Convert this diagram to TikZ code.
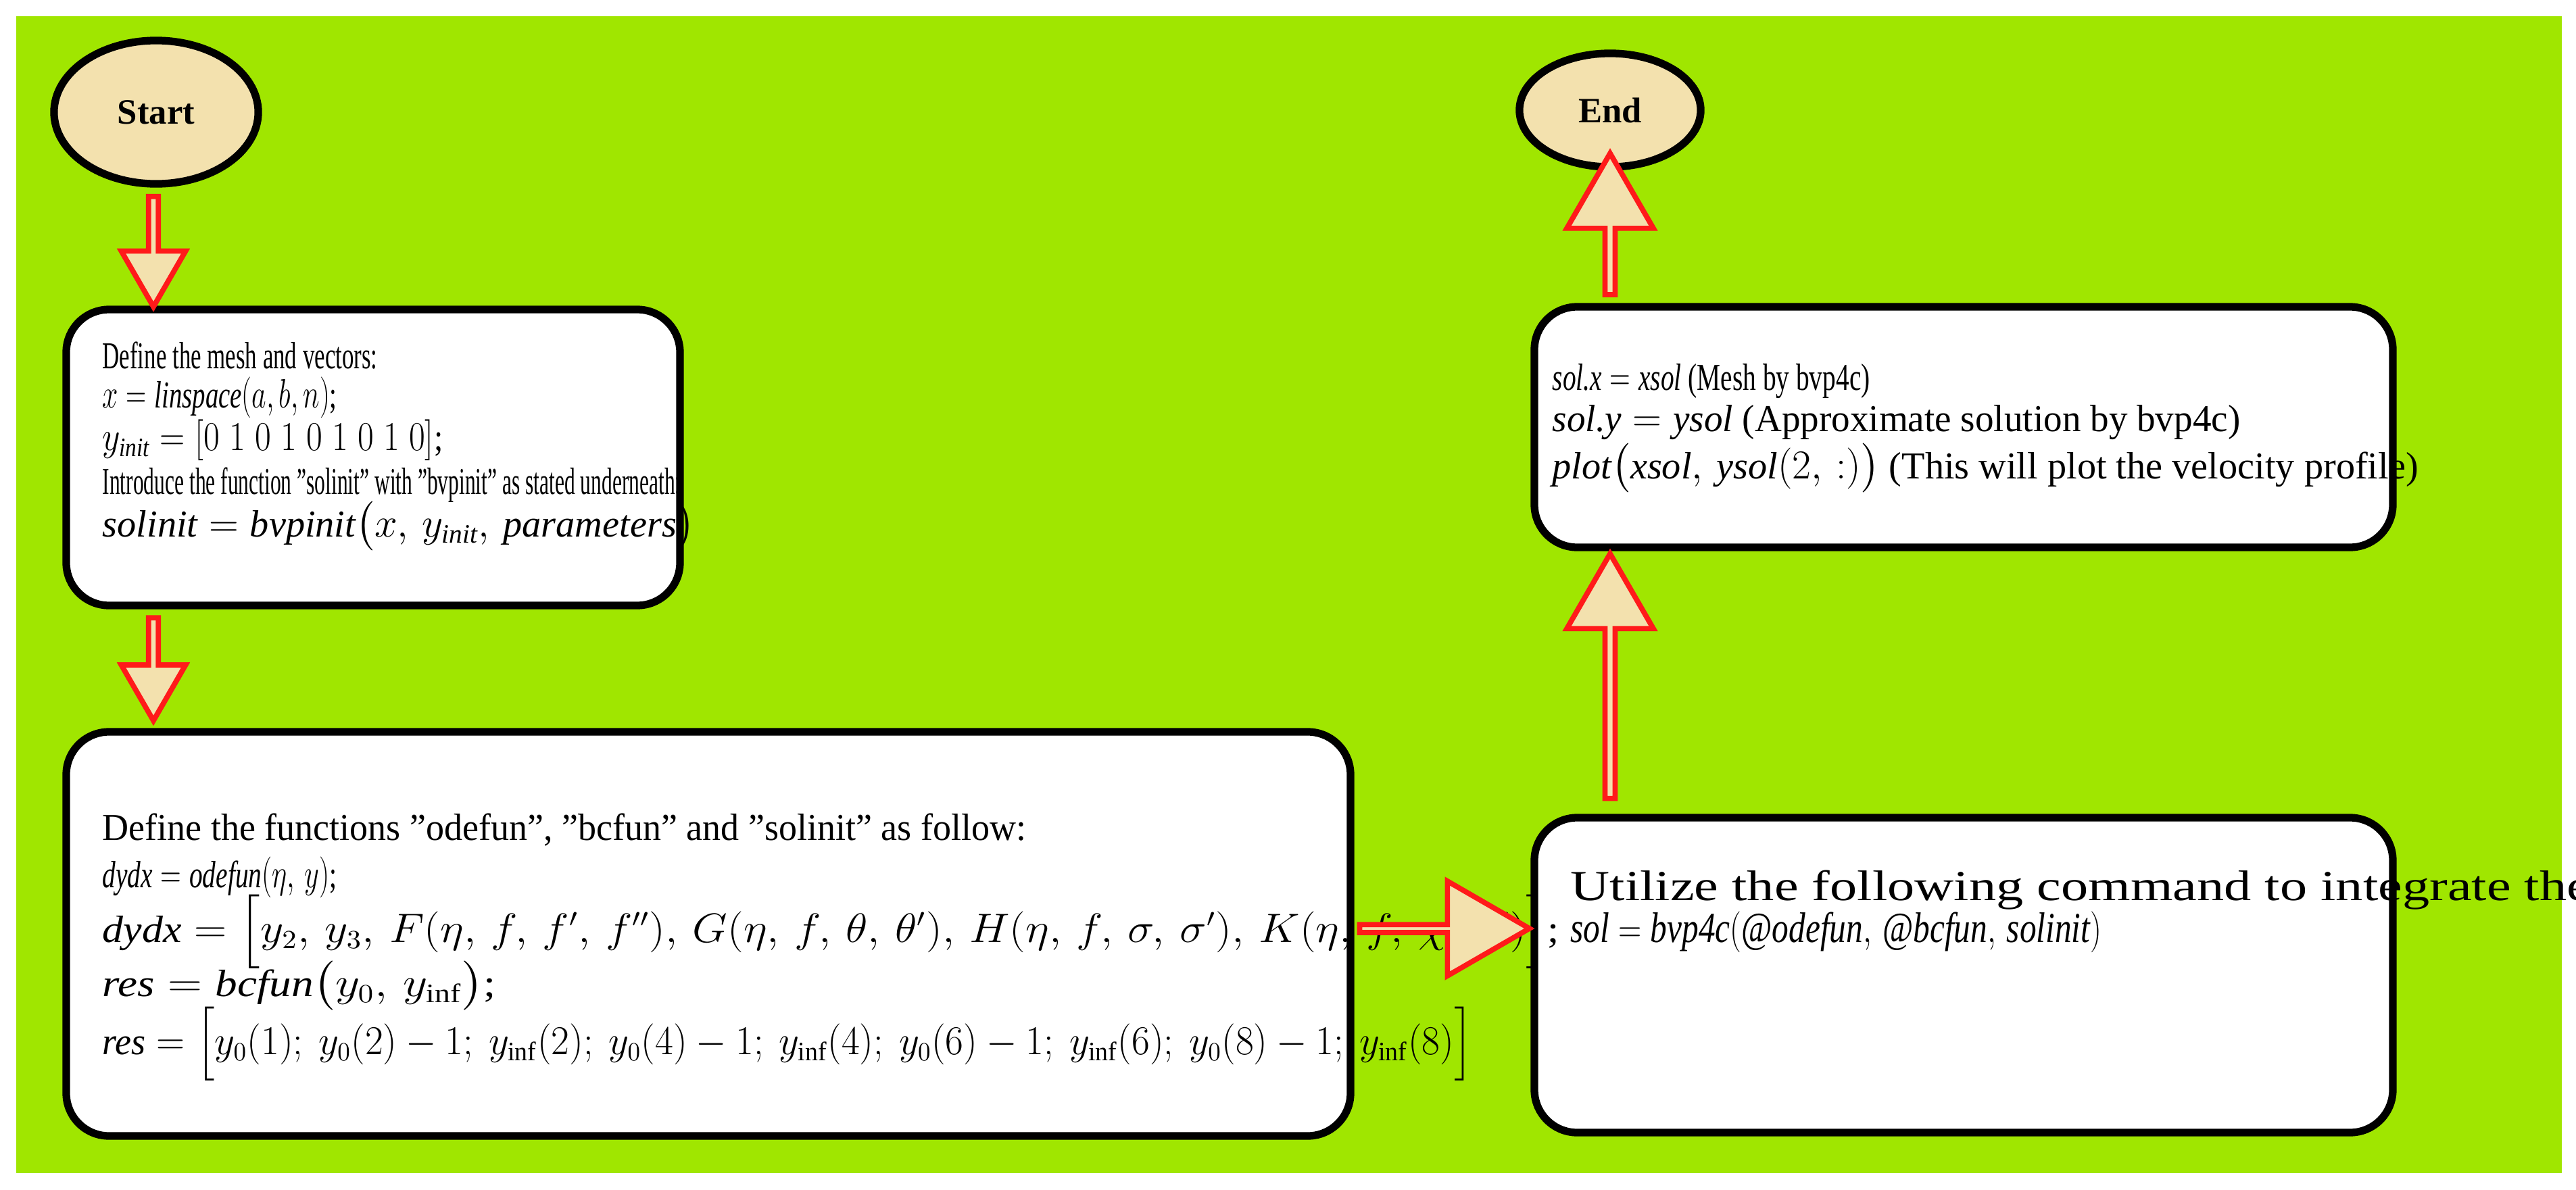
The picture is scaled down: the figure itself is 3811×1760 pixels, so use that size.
\documentclass[tikz,border=0pt]{standalone}
\usepackage{fontspec}
\setmainfont{Liberation Serif}
\usepackage{amsmath}
\usepackage{graphicx}
\usetikzlibrary{shapes.arrows,shapes.geometric}
\newcommand\vn[1]{\textit{#1}}
\newcommand\qq{\symbol{34}}
\newcommand\sqz[2]{\scalebox{#1}[1]{#2}}
\begin{document}
\begin{tikzpicture}[x=0.01cm,y=-0.01cm,
  term/.style={ellipse,draw=black,line width=3.2pt,fill=tan0,font=\fontsize{15}{18}\selectfont\bfseries,inner sep=0pt},
  box/.style={draw=black,line width=3.2pt,fill=white,rounded corners=18pt},
  txt/.style={anchor=base west,inner sep=0pt,font=\fontsize{16}{18}\selectfont},
  txtb/.style={anchor=base west,inner sep=0pt,font=\fontsize{18}{20}\selectfont},
  bigarrow/.style={single arrow,draw=red0,fill=tan0,line width=2.2pt,inner sep=0pt,single arrow tip angle=60}]
\definecolor{tan0}{HTML}{F3E1AE}
\definecolor{red0}{HTML}{FF1A1A}
\definecolor{green0}{HTML}{A0E600}
\useasboundingbox (0,0) rectangle (3811,1760);
\fill[white] (0,0) rectangle (3811,1760);
\fill[green0] (24,24) rectangle (3790,1736);
\node[term,minimum width=3.02cm,minimum height=2.12cm] (start) at (231,166) {Start};
\node[term,minimum width=2.68cm,minimum height=1.68cm] (end) at (2382,163) {End};
% boxes
\draw[box] (98,458) rectangle (1006,896);
\draw[box] (98,1083) rectangle (1998,1681);
\draw[box] (2270,454) rectangle (3540,810);
\draw[box] (2270,1210) rectangle (3540,1676);
% box 1
\node[txt] (b1a) at (151,545) {\sqz{0.62}{Define the mesh and vectors:}};
\node[txt] (b1b) at (151,603) {\sqz{0.69}{$x=\vn{linspace}(a,b,n)$;}};
\node[txt] (b1c) at (151,666) {\sqz{0.85}{$y_{\vn{init}}=[0\;1\;0\;1\;0\;1\;0\;1\;0]$;}};
\node[txt] (b1d) at (151,731) {\sqz{0.56}{Introduce the function \qq solinit\qq{} with \qq bvpinit\qq{} as stated underneath:}};
\node[txt] (b1e) at (151,794) {\sqz{1.0}{$\vn{solinit}=\vn{bvpinit}\big(x,\,y_{\vn{init}},\,\vn{parameters}\big)$}};
% box 2
\node[txt] (b2a) at (151,1243) {\sqz{0.96}{Define the functions \qq odefun\qq, \qq bcfun\qq{} and \qq solinit\qq{} as follow:}};
\node[txt] (b2b) at (151,1313) {\sqz{0.7}{$\vn{dydx}=\vn{odefun}(\eta,\,y)$;}};
\node[txt] (b2c) at (151,1394) {\sqz{1.1}{$\vn{dydx}=\Big[y_2,\,y_3,\,F(\eta,\,f,\,f',\,f''),\,G(\eta,\,f,\,\theta,\,\theta'),\,H(\eta,\,f,\,\sigma,\,\sigma'),\,K(\eta,\,f,\,\chi,\,\chi')\Big]$;}};
\node[txt] (b2d) at (151,1474) {\sqz{1.16}{$\vn{res}=\vn{bcfun}\big(y_0,\,y_{\mathrm{inf}}\big)$;}};
\node[txt] (b2e) at (151,1560) {\sqz{0.96}{$\vn{res}=\Big[y_0(1);\ y_0(2)-1;\ y_{\mathrm{inf}}(2);\ y_0(4)-1;\ y_{\mathrm{inf}}(4);\ y_0(6)-1;\ y_{\mathrm{inf}}(6);\ y_0(8)-1;\ y_{\mathrm{inf}}(8)\Big]$}};
% box 3
\node[txt] (b3a) at (2296,577) {\sqz{0.7}{$\vn{sol.x}=\vn{xsol}$ (Mesh by bvp4c)}};
\node[txt] (b3b) at (2296,638) {\sqz{0.98}{$\vn{sol.y}=\vn{ysol}$ (Approximate solution by bvp4c)}};
\node[txt] (b3c) at (2296,708) {\sqz{1.0}{$\vn{plot}\big(\vn{xsol},\,\vn{ysol}(2,\,:)\big)$ (This will plot the velocity profile)}};
% box 4
\node[txtb] (b4a) at (2323,1332) {\sqz{1.27}{Utilize the following command to integrate the problem}};
\node[txtb] (b4b) at (2323,1394) {\sqz{0.78}{$\vn{sol}=\vn{bvp4c}(@\vn{odefun},\,@\vn{bcfun},\,\vn{solinit})$}};
% arrows
\node[bigarrow,shape border rotate=270,minimum height=1.63cm,minimum width=0.95cm,single arrow head extend=6pt] (a1) at (227,366) {};
\node[bigarrow,shape border rotate=270,minimum height=1.52cm,minimum width=0.95cm,single arrow head extend=6pt] (a2) at (227,984) {};
\node[bigarrow,shape border rotate=0,minimum height=2.51cm,minimum width=1.4cm,single arrow head extend=12pt] (a3) at (2132,1374) {};
\node[bigarrow,shape border rotate=90,minimum height=3.62cm,minimum width=1.28cm,single arrow head extend=8.3pt] (a4) at (2382,1007) {};
\node[bigarrow,shape border rotate=90,minimum height=2.09cm,minimum width=1.28cm,single arrow head extend=8.3pt] (a5) at (2382,338) {};
\end{tikzpicture}
\end{document}
